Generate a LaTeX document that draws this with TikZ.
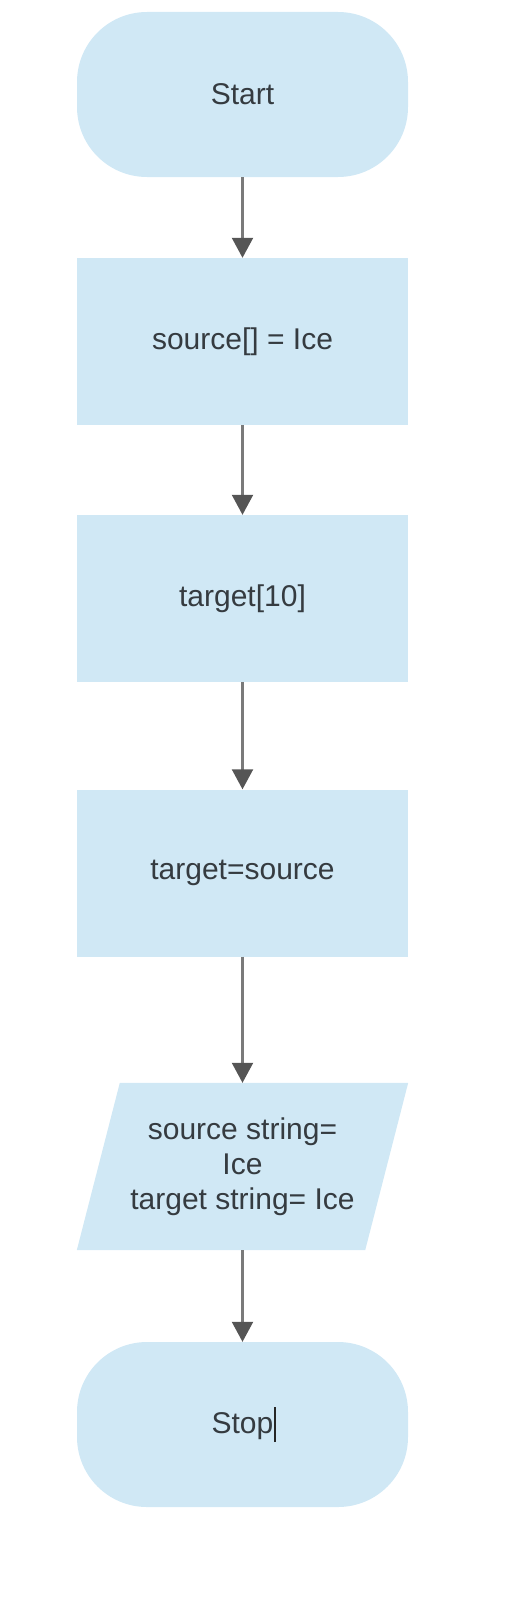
\documentclass[tikz,border=0pt]{standalone}
\usepackage{fontspec}
\setmainfont{Liberation Sans}
\usetikzlibrary{arrows.meta,backgrounds}
\definecolor{boxblue}{HTML}{D0E8F5}
\definecolor{txt}{HTML}{353B40}
\definecolor{shaft}{HTML}{7A7A7A}
\definecolor{head}{HTML}{555555}
\begin{document}
\begin{tikzpicture}[x=1pt,y=-1pt,
  base/.style={fill=boxblue, text=txt, minimum width=331pt, minimum height=167pt,
    inner sep=0pt, font=\fontsize{30}{35}\selectfont, align=center},
  term/.style={base, minimum height=165pt, rounded corners=70pt},
  proc/.style={base},
  iobox/.style={base, fill=none, minimum width=288pt},
  flow/.style={draw=shaft, line width=2.2pt,
    -{Triangle[width=21pt,length=20pt,color=head]}}]
\useasboundingbox (0,0) rectangle (519,1600);
\node[term] (start) at (242.5,94.5) {Start};
\node[proc] (b1) at (242.5,341.5) {source[] = Ice};
\node[proc] (b2) at (242.5,598.5) {target[10]};
\node[proc] (b3) at (242.5,873) {target=source};
\node[iobox] (io) at (242.5,1166.5) {source string=\\Ice\\target string= Ice};
\begin{scope}[on background layer]
  \fill[boxblue] ([xshift=21.5pt]io.north west) -- ([xshift=21.5pt]io.north east)
    -- ([xshift=-21.5pt]io.south east) -- ([xshift=-21.5pt]io.south west) -- cycle;
\end{scope}
\node[term] (stop) at (242.5,1424.5) {Stop\rlap{\kern1pt\color{black!85}\rule[-9pt]{2pt}{35pt}}};
\draw[flow] (start) -- (b1);
\draw[flow] (b1) -- (b2);
\draw[flow] (b2) -- (b3);
\draw[flow] (b3) -- (io);
\draw[flow] (io) -- (stop);
\end{tikzpicture}
\end{document}
